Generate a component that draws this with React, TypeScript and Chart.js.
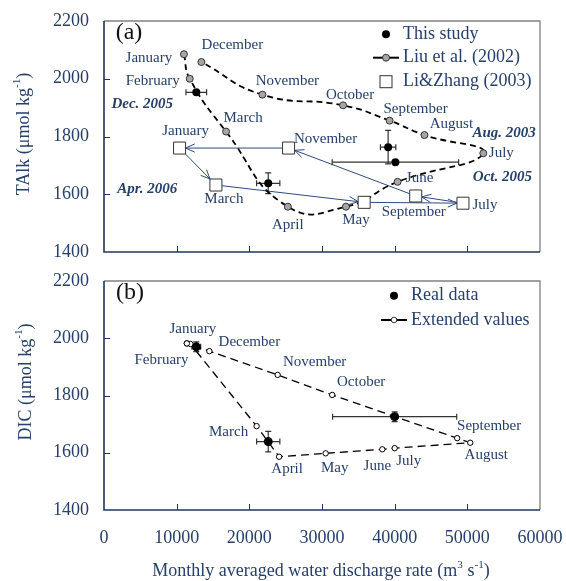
import React, { useEffect, useRef } from 'react';
import { Chart, registerables } from 'chart.js';

Chart.register(...registerables);

const FONT = "'Liberation Serif', 'Times New Roman', serif";
const NAVY = '#27406a';
const AXIS = '#1f3658';
const FRAME = '#808080';

// ---------- shared ticks ----------
const xTickValues = [0, 10000, 20000, 30000, 40000, 50000, 60000];
const yTickValues = [1400, 1600, 1800, 2000, 2200];

// ---------- panel (a): TAlk ----------
const liuMonths = ['January', 'February', 'March', 'April', 'May', 'June', 'July', 'August', 'September', 'October', 'November', 'December'];
const liuDischarge = [11000, 11800, 16800, 25300, 33300, 40400, 52200, 44100, 39300, 32900, 21800, 13400];
const liuTAlk = [2085, 2000, 1817, 1557, 1557, 1643, 1742, 1805, 1855, 1908, 1945, 2058];

const lzMonths = ['January', 'March', 'May', 'July', 'September', 'November'];
const lzDischarge = [10400, 15400, 35800, 49400, 42900, 25400];
const lzTAlk = [1760, 1632, 1572, 1569, 1594, 1760];

const studyLabels = ['Dec. 2005', 'Apr. 2006', 'Aug. 2003', 'Oct. 2005'];
const studyDischarge = [12700, 22600, 39100, 40100];
const studyDischargeErr = [1420, 1600, 1060, 8700];
const studyTAlk = [1953, 1638, 1763, 1711];
const studyTAlkErr = [0, 36, 58, 0];

// ---------- panel (b): DIC ----------
const extMonths = ['January', 'February', 'March', 'April', 'May', 'June', 'July', 'August', 'September', 'October', 'November', 'December'];
const extDischarge = [11400, 11900, 21000, 24100, 30500, 38300, 40000, 50400, 48600, 31400, 23900, 14500];
const extDIC = [1982, 1980, 1693, 1586, 1598, 1612, 1616, 1635, 1651, 1802, 1872, 1955];

const realDischarge = [12700, 22600, 40000];
const realDischargeErr = [600, 1600, 8540];
const realDIC = [1970, 1639, 1726];
const realDICErr = [17, 36, 17];

// ---------- label placement (pixel offsets from the point, layout only) ----------
const liuLabelOffsets: [number, number][] = [[-35, 4], [-37, 2], [17, -14], [0, 18], [10, 13], [22, -4], [18, 0], [27, -11], [26, -12], [7, -10], [25, -14], [31, -17]];
const lzLabelOffsets: ([number, number] | null)[] = [[6, -17], [8, 14], null, [22, 2], [-2, 16], [37, -9]];
const studyLabelOffsets: [number, number][] = [[-54, 12], [-121, 6], [116, -14], [107, 15]];
const extLabelOffsets: [number, number][] = [[6, -14], [-29, 16], [-28, 6], [8, 12], [9, 15], [-5, 17], [14, 13], [16, 12], [32, -12], [29, -13], [37, -13], [40, -9]];

type Seg = { t: string; sup?: boolean };

function segWidth(ctx: CanvasRenderingContext2D, segs: Seg[], size: number, style = '') {
  let w = 0;
  for (const s of segs) {
    ctx.font = `${style}${s.sup ? size * 0.62 : size}px ${FONT}`;
    w += ctx.measureText(s.t).width;
  }
  return w;
}

function drawSegs(ctx: CanvasRenderingContext2D, segs: Seg[], size: number, x: number, y: number, align: 'center' | 'left' = 'center', style = '') {
  const w = segWidth(ctx, segs, size, style);
  let cx = align === 'center' ? x - w / 2 : x;
  ctx.textAlign = 'left';
  ctx.textBaseline = 'middle';
  for (const s of segs) {
    ctx.font = `${style}${s.sup ? size * 0.62 : size}px ${FONT}`;
    ctx.fillText(s.t, cx, s.sup ? y - size * 0.36 : y);
    cx += ctx.measureText(s.t).width;
  }
}

interface LabelSet { texts: string[]; xs: number[]; ys: number[]; offsets: ([number, number] | null)[]; style: string; size: number }
interface ErrSet { xs: number[]; ys: number[]; xe: number[]; ye: number[] }
interface LegendItem { kind: 'dot' | 'liu' | 'square' | 'open'; text: string; y: number }
interface DecorCfg {
  labels: LabelSet[];
  errors: ErrSet;
  arrows?: { xs: number[]; ys: number[] };
  legend: { symX: number; textX: number; items: LegendItem[] };
  panel: { text: string; x: number; y: number };
  yTitle: { segs: Seg[]; x: number; y: number; size: number };
  xTitle?: { segs: Seg[]; x: number; y: number; size: number };
}

function makeDecor(cfg: DecorCfg) {
  return {
    id: 'decor',
    beforeDatasetsDraw(chart: any) {
      const { ctx, scales } = chart;
      const xs = scales.x, ys = scales.y;
      ctx.save();
      if (cfg.arrows) {
        const pts = cfg.arrows.xs.map((v, i) => [xs.getPixelForValue(v), ys.getPixelForValue(cfg.arrows!.ys[i])]);
        const half = 6;
        ctx.strokeStyle = '#2e4a7a';
        ctx.lineWidth = 1;
        for (let i = 0; i < pts.length; i++) {
          const p = pts[i];
          const q = pts[(i + 1) % pts.length];
          const dx = q[0] - p[0], dy = q[1] - p[1];
          const s = half / Math.max(Math.abs(dx), Math.abs(dy));
          const sx = p[0] + dx * s, sy = p[1] + dy * s;
          const ex = q[0] - dx * s, ey = q[1] - dy * s;
          ctx.beginPath();
          ctx.moveTo(sx, sy);
          ctx.lineTo(ex, ey);
          ctx.stroke();
          const ang = Math.atan2(dy, dx);
          const L = 10, A = 0.42;
          ctx.beginPath();
          ctx.moveTo(ex - L * Math.cos(ang - A), ey - L * Math.sin(ang - A));
          ctx.lineTo(ex, ey);
          ctx.lineTo(ex - L * Math.cos(ang + A), ey - L * Math.sin(ang + A));
          ctx.stroke();
        }
      }
      // error bars
      const e = cfg.errors;
      ctx.strokeStyle = '#333';
      ctx.lineWidth = 1.2;
      e.xs.forEach((xv, i) => {
        const px = xs.getPixelForValue(xv);
        const py = ys.getPixelForValue(e.ys[i]);
        if (e.xe[i]) {
          const x1 = xs.getPixelForValue(xv - e.xe[i]);
          const x2 = xs.getPixelForValue(xv + e.xe[i]);
          ctx.beginPath();
          ctx.moveTo(x1, py); ctx.lineTo(x2, py);
          ctx.moveTo(x1, py - 3); ctx.lineTo(x1, py + 3);
          ctx.moveTo(x2, py - 3); ctx.lineTo(x2, py + 3);
          ctx.stroke();
        }
        if (e.ye[i]) {
          const y1 = ys.getPixelForValue(e.ys[i] - e.ye[i]);
          const y2 = ys.getPixelForValue(e.ys[i] + e.ye[i]);
          ctx.beginPath();
          ctx.moveTo(px, y1); ctx.lineTo(px, y2);
          ctx.moveTo(px - 3, y1); ctx.lineTo(px + 3, y1);
          ctx.moveTo(px - 3, y2); ctx.lineTo(px + 3, y2);
          ctx.stroke();
        }
      });
      ctx.restore();
    },
    afterDraw(chart: any) {
      const { ctx, chartArea: a, scales } = chart;
      const xs = scales.x, ys = scales.y;
      ctx.save();
      // frame
      ctx.lineWidth = 1.3;
      ctx.strokeStyle = FRAME;
      ctx.beginPath();
      ctx.moveTo(a.left, a.top); ctx.lineTo(a.right, a.top); ctx.lineTo(a.right, a.bottom);
      ctx.stroke();
      ctx.lineWidth = 1.6;
      ctx.strokeStyle = AXIS;
      ctx.beginPath();
      ctx.moveTo(a.left, a.top); ctx.lineTo(a.left, a.bottom); ctx.lineTo(a.right, a.bottom);
      ctx.stroke();
      // inward ticks
      ctx.lineWidth = 1;
      ctx.beginPath();
      ys.ticks.forEach((t: any) => {
        if (t.value > ys.min && t.value < ys.max) {
          const py = Math.round(ys.getPixelForValue(t.value)) + 0.5;
          ctx.moveTo(a.left, py); ctx.lineTo(a.left + 6, py);
        }
      });
      xs.ticks.forEach((t: any) => {
        if (t.value > xs.min && t.value < xs.max) {
          const px = Math.round(xs.getPixelForValue(t.value)) + 0.5;
          ctx.moveTo(px, a.bottom); ctx.lineTo(px, a.bottom - 6);
        }
      });
      ctx.stroke();
      // point labels
      ctx.fillStyle = NAVY;
      for (const L of cfg.labels) {
        L.texts.forEach((txt, i) => {
          const off = L.offsets[i];
          if (!off) return;
          const px = xs.getPixelForValue(L.xs[i]) + off[0];
          const py = ys.getPixelForValue(L.ys[i]) + off[1];
          drawSegs(ctx, [{ t: txt }], L.size, px, py, 'center', L.style);
        });
      }
      // legend
      const lg = cfg.legend;
      for (const it of lg.items) {
        const sx = lg.symX, sy = it.y;
        ctx.lineWidth = 1;
        if (it.kind === 'dot') {
          ctx.fillStyle = '#000';
          ctx.beginPath(); ctx.arc(sx, sy, 4, 0, Math.PI * 2); ctx.fill();
        } else if (it.kind === 'liu' || it.kind === 'open') {
          ctx.strokeStyle = '#000';
          ctx.lineWidth = 2;
          ctx.beginPath(); ctx.moveTo(sx - 13, sy); ctx.lineTo(sx + 13, sy); ctx.stroke();
          ctx.lineWidth = 1;
          ctx.fillStyle = it.kind === 'liu' ? '#a6a6a6' : '#fff';
          ctx.strokeStyle = '#333';
          ctx.beginPath(); ctx.arc(sx, sy, it.kind === 'liu' ? 3.5 : 2.8, 0, Math.PI * 2); ctx.fill(); ctx.stroke();
        } else if (it.kind === 'square') {
          ctx.fillStyle = '#fff';
          ctx.strokeStyle = '#333';
          ctx.fillRect(sx - 6, sy - 6, 12, 12);
          ctx.strokeRect(sx - 6, sy - 6, 12, 12);
        }
        ctx.fillStyle = NAVY;
        drawSegs(ctx, [{ t: it.text }], 18, lg.textX, sy, 'left');
      }
      // panel letter
      ctx.fillStyle = '#111';
      drawSegs(ctx, [{ t: cfg.panel.text }], 24, cfg.panel.x, cfg.panel.y, 'center');
      // y title
      ctx.fillStyle = NAVY;
      ctx.save();
      ctx.translate(cfg.yTitle.x, cfg.yTitle.y);
      ctx.rotate(-Math.PI / 2);
      drawSegs(ctx, cfg.yTitle.segs, cfg.yTitle.size, 0, 0, 'center');
      ctx.restore();
      if (cfg.xTitle) {
        drawSegs(ctx, cfg.xTitle.segs, cfg.xTitle.size, cfg.xTitle.x, cfg.xTitle.y, 'center');
      }
      ctx.restore();
    },
  };
}

function scalesFor(showX: boolean, xHeight: number) {
  return {
    x: {
      type: 'linear' as const,
      min: 0,
      max: 60000,
      afterBuildTicks: (axis: any) => { axis.ticks = xTickValues.map((v) => ({ value: v })); },
      afterFit: (axis: any) => { axis.height = xHeight; },
      grid: { display: false, drawTicks: true, tickLength: 17 },
      border: { display: false },
      ticks: {
        display: showX,
        padding: 0,
        color: NAVY,
        font: { family: FONT, size: 18 },
        callback: (v: any) => String(v),
      },
    },
    y: {
      type: 'linear' as const,
      min: 1400,
      max: 2200,
      afterBuildTicks: (axis: any) => { axis.ticks = yTickValues.map((v) => ({ value: v })); },
      afterFit: (axis: any) => { axis.width = 104; },
      grid: { display: false, drawTicks: true, tickLength: 15 },
      border: { display: false },
      ticks: {
        padding: 0,
        color: NAVY,
        font: { family: FONT, size: 18 },
        callback: (v: any) => String(v),
      },
    },
  };
}

export default function App() {
  const topRef = useRef<HTMLCanvasElement>(null);
  const botRef = useRef<HTMLCanvasElement>(null);

  useEffect(() => {
    const liuPts = liuDischarge.map((x, i) => ({ x, y: liuTAlk[i] }));
    const lzPts = lzDischarge.map((x, i) => ({ x, y: lzTAlk[i] }));
    const studyPts = studyDischarge.map((x, i) => ({ x, y: studyTAlk[i] }));

    const top = new Chart(topRef.current!, {
      type: 'scatter',
      data: {
        datasets: [
          {
            label: 'This study', data: studyPts, showLine: false, order: 1,
            pointRadius: 4, pointBackgroundColor: '#000', pointBorderColor: '#000', pointBorderWidth: 0,
          },
          {
            label: 'Li&Zhang (2003)', data: lzPts, showLine: false, order: 2,
            pointStyle: 'rect', pointRadius: 8.5, pointBackgroundColor: '#fff', pointBorderColor: '#333', pointBorderWidth: 1,
          },
          {
            label: 'Liu et al. (2002)', data: liuPts, showLine: true, order: 3, tension: 0.5,
            borderColor: '#000', borderWidth: 1.8, borderDash: [6, 4],
            pointRadius: 3.5, pointBackgroundColor: '#a6a6a6', pointBorderColor: '#333', pointBorderWidth: 1,
          },
        ],
      },
      options: {
        animation: false,
        responsive: false,
        devicePixelRatio: 1,
        layout: { padding: { left: 0, right: 26, top: 21, bottom: 13 } },
        plugins: { legend: { display: false }, tooltip: { enabled: false } },
        scales: scalesFor(false, 0),
      },
      plugins: [makeDecor({
        labels: [
          { texts: liuMonths, xs: liuDischarge, ys: liuTAlk, offsets: liuLabelOffsets, style: '', size: 15 },
          { texts: lzMonths, xs: lzDischarge, ys: lzTAlk, offsets: lzLabelOffsets, style: '', size: 15 },
          { texts: studyLabels, xs: studyDischarge, ys: studyTAlk, offsets: studyLabelOffsets, style: 'italic bold ', size: 15 },
        ],
        errors: { xs: studyDischarge, ys: studyTAlk, xe: studyDischargeErr, ye: studyTAlkErr },
        arrows: { xs: lzDischarge, ys: lzTAlk },
        legend: {
          symX: 386, textX: 403, items: [
            { kind: 'dot', text: 'This study', y: 34.3 },
            { kind: 'liu', text: 'Liu et al. (2002)', y: 57.7 },
            { kind: 'square', text: 'Li&Zhang (2003)', y: 81.7 },
          ],
        },
        panel: { text: '(a)', x: 129, y: 33 },
        yTitle: { segs: [{ t: 'TAlk (μmol kg' }, { t: '-1', sup: true }, { t: ')' }], x: 24, y: 134, size: 18 },
      }) as any],
    } as any);

    const extPts = extDischarge.map((x, i) => ({ x, y: extDIC[i] }));
    const extLoop = [...extPts, extPts[0]];
    const realPts = realDischarge.map((x, i) => ({ x, y: realDIC[i] }));

    const bot = new Chart(botRef.current!, {
      type: 'scatter',
      data: {
        datasets: [
          {
            label: 'Real data', data: realPts, showLine: false, order: 1,
            pointRadius: 4.5, pointBackgroundColor: '#000', pointBorderColor: '#000', pointBorderWidth: 0,
          },
          {
            label: 'Extended values', data: extLoop, showLine: true, order: 2, tension: 0,
            borderColor: '#000', borderWidth: 1.3, borderDash: [8, 5],
            pointRadius: 2.7, pointBackgroundColor: '#fff', pointBorderColor: '#000', pointBorderWidth: 1,
          },
        ],
      },
      options: {
        animation: false,
        responsive: false,
        devicePixelRatio: 1,
        layout: { padding: { left: 0, right: 26, top: 16, bottom: 0 } },
        plugins: { legend: { display: false }, tooltip: { enabled: false } },
        scales: scalesFor(true, 71),
      },
      plugins: [makeDecor({
        labels: [
          { texts: extMonths, xs: extDischarge, ys: extDIC, offsets: extLabelOffsets, style: '', size: 15 },
        ],
        errors: { xs: realDischarge, ys: realDIC, xe: realDischargeErr, ye: realDICErr },
        legend: {
          symX: 394, textX: 411, items: [
            { kind: 'dot', text: 'Real data', y: 30.7 },
            { kind: 'open', text: 'Extended values', y: 55 },
          ],
        },
        panel: { text: '(b)', x: 130, y: 28 },
        yTitle: { segs: [{ t: 'DIC (μmol kg' }, { t: '-1', sup: true }, { t: ')' }], x: 26, y: 117, size: 18 },
        xTitle: { segs: [{ t: 'Monthly averaged water discharge rate (m' }, { t: '3', sup: true }, { t: ' s' }, { t: '-1', sup: true }, { t: ')' }], x: 321, y: 306.7, size: 18 },
      }) as any],
    } as any);

    return () => { top.destroy(); bot.destroy(); };
  }, []);

  return (
    <div style={{ position: 'absolute', left: 0, top: 0, width: 566, height: 581, background: '#fff' }}>
      <canvas ref={topRef} width={566} height={265} style={{ position: 'absolute', left: 0, top: 0, width: 566, height: 265 }} />
      <canvas ref={botRef} width={566} height={316} style={{ position: 'absolute', left: 0, top: 265, width: 566, height: 316 }} />
    </div>
  );
}
